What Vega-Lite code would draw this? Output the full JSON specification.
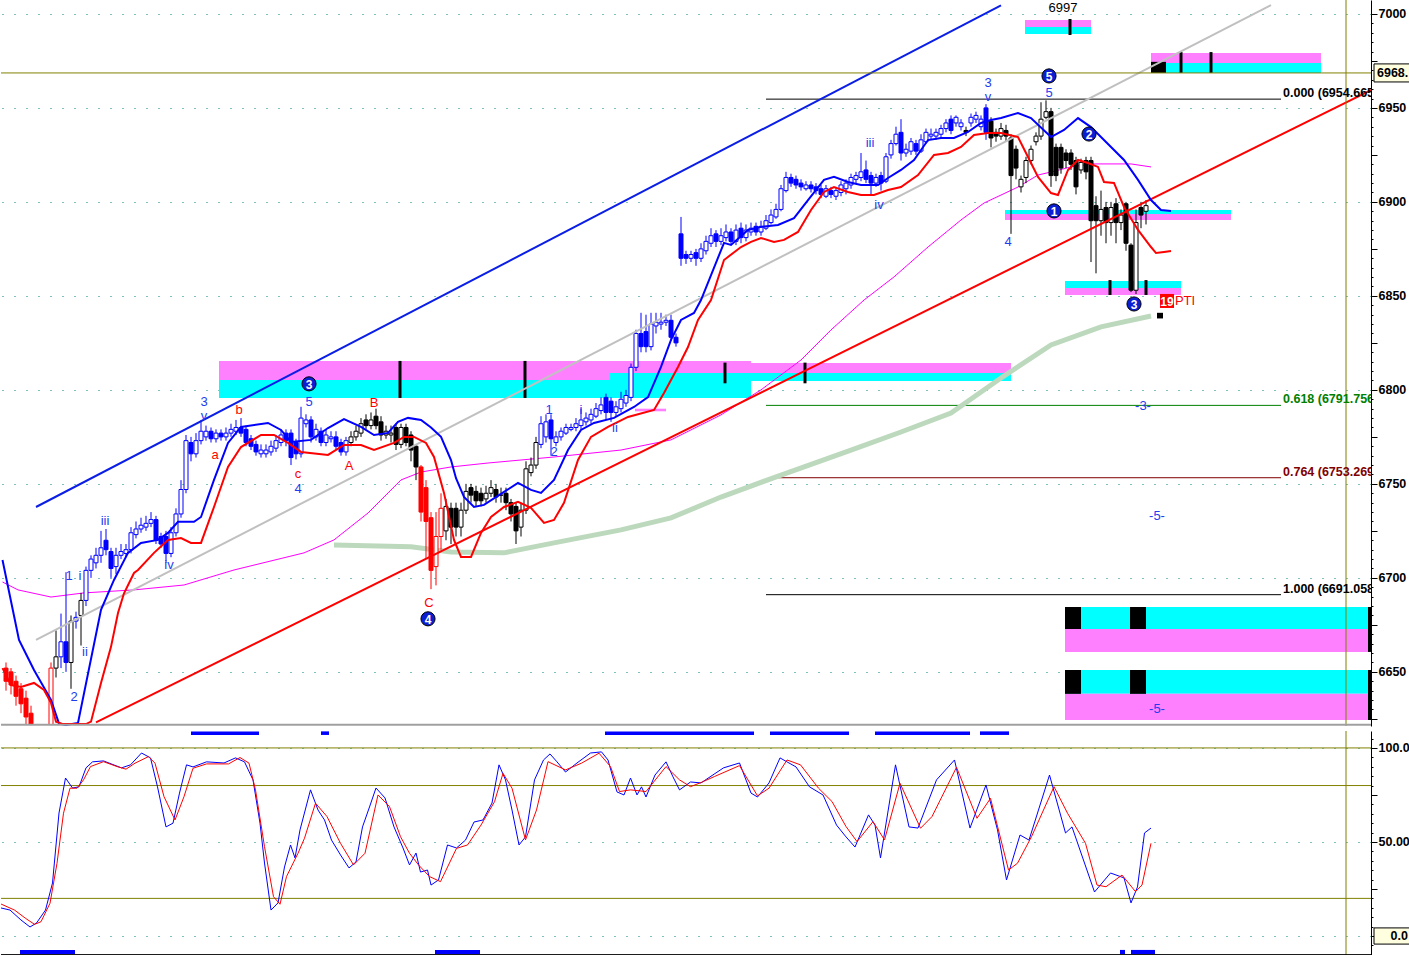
{
"$schema":"https://vega.github.io/schema/vega-lite/v6.json",
"padding":0,"spacing":5,"background":"white",
"config":{"view":{"stroke":null},"text":{"font":"Liberation Sans"},"scale":{"continuousPadding":0}},
"resolve":{"scale":{"x":"independent","y":"independent","color":"independent","fill":"independent","stroke":"independent"}},
"datasets":{
"candles":[
{"t":1,"o":6652,"h":6655,"l":6640,"c":6645,"k":"red"},{"t":2,"o":6650,"h":6652,"l":6638,"c":6643,"k":"red"},{"t":3,"o":6645,"h":6648,"l":6632,"c":6637,"k":"red"},{"t":4,"o":6641,"h":6644,"l":6628,"c":6633,"k":"red"},{"t":5,"o":6636,"h":6640,"l":6622,"c":6626,"k":"red"},{"t":6,"o":6628,"h":6632,"l":6622,"c":6622,"k":"red"},
{"t":10,"o":6622,"h":6655,"l":6622,"c":6652,"k":"red"},{"t":11,"o":6652,"h":6672,"l":6647,"c":6658,"k":"black"},{"t":12,"o":6658,"h":6681,"l":6652,"c":6666,"k":"blue"},{"t":13,"o":6666,"h":6703,"l":6650,"c":6655,"k":"blue"},{"t":14,"o":6655,"h":6680,"l":6641,"c":6677,"k":"black"},{"t":15,"o":6677,"h":6682,"l":6673,"c":6679,"k":"blue"},{"t":16,"o":6680,"h":6692,"l":6664,"c":6688,"k":"black"},{"t":17,"o":6688,"h":6706,"l":6685,"c":6704,"k":"blue"},{"t":18,"o":6704,"h":6712,"l":6700,"c":6710,"k":"blue"},{"t":19,"o":6708,"h":6716,"l":6705,"c":6712,"k":"blue"},
{"t":20,"o":6712,"h":6725,"l":6708,"c":6716,"k":"blue"},{"t":21,"o":6720,"h":6726,"l":6712,"c":6715,"k":"blue"},{"t":22,"o":6714,"h":6716,"l":6700,"c":6705,"k":"blue"},{"t":23,"o":6706,"h":6716,"l":6702,"c":6712,"k":"blue"},{"t":24,"o":6712,"h":6718,"l":6710,"c":6714,"k":"blue"},{"t":25,"o":6713,"h":6718,"l":6711,"c":6715,"k":"blue"},{"t":26,"o":6715,"h":6727,"l":6713,"c":6724,"k":"blue"},{"t":27,"o":6723,"h":6730,"l":6721,"c":6726,"k":"blue"},{"t":28,"o":6726,"h":6732,"l":6724,"c":6728,"k":"blue"},{"t":29,"o":6727,"h":6733,"l":6725,"c":6729,"k":"blue"},
{"t":30,"o":6729,"h":6735,"l":6727,"c":6731,"k":"blue"},{"t":31,"o":6731,"h":6733,"l":6718,"c":6720,"k":"blue"},{"t":32,"o":6722,"h":6724,"l":6716,"c":6718,"k":"blue"},{"t":33,"o":6722,"h":6725,"l":6708,"c":6713,"k":"blue"},{"t":34,"o":6713,"h":6727,"l":6711,"c":6724,"k":"blue"},{"t":35,"o":6724,"h":6737,"l":6722,"c":6734,"k":"blue"},{"t":36,"o":6734,"h":6752,"l":6732,"c":6747,"k":"blue"},{"t":37,"o":6747,"h":6776,"l":6745,"c":6773,"k":"blue"},{"t":38,"o":6772,"h":6775,"l":6762,"c":6766,"k":"blue"},{"t":39,"o":6766,"h":6777,"l":6764,"c":6773,"k":"blue"},
{"t":40,"o":6773,"h":6784,"l":6771,"c":6778,"k":"blue"},{"t":41,"o":6775,"h":6781,"l":6773,"c":6778,"k":"blue"},{"t":42,"o":6778,"h":6780,"l":6772,"c":6774,"k":"blue"},{"t":43,"o":6774,"h":6779,"l":6772,"c":6777,"k":"blue"},{"t":44,"o":6777,"h":6779,"l":6773,"c":6775,"k":"blue"},{"t":45,"o":6775,"h":6780,"l":6773,"c":6777,"k":"blue"},{"t":46,"o":6777,"h":6782,"l":6775,"c":6779,"k":"blue"},{"t":47,"o":6778,"h":6784,"l":6776,"c":6780,"k":"blue"},{"t":48,"o":6780,"h":6785,"l":6775,"c":6777,"k":"blue"},{"t":49,"o":6779,"h":6781,"l":6770,"c":6772,"k":"blue"},
{"t":50,"o":6774,"h":6776,"l":6768,"c":6770,"k":"blue"},{"t":51,"o":6771,"h":6773,"l":6765,"c":6767,"k":"blue"},{"t":52,"o":6766,"h":6771,"l":6764,"c":6768,"k":"blue"},{"t":53,"o":6766,"h":6771,"l":6764,"c":6768,"k":"blue"},{"t":54,"o":6767,"h":6773,"l":6765,"c":6770,"k":"blue"},{"t":55,"o":6769,"h":6776,"l":6767,"c":6773,"k":"blue"},{"t":56,"o":6772,"h":6779,"l":6770,"c":6776,"k":"blue"},{"t":57,"o":6777,"h":6779,"l":6770,"c":6773,"k":"blue"},{"t":58,"o":6777,"h":6779,"l":6760,"c":6764,"k":"blue"},{"t":59,"o":6772,"h":6774,"l":6763,"c":6766,"k":"blue"},
{"t":60,"o":6766,"h":6791,"l":6764,"c":6785,"k":"blue"},{"t":61,"o":6782,"h":6787,"l":6780,"c":6784,"k":"blue"},{"t":62,"o":6784,"h":6786,"l":6772,"c":6775,"k":"blue"},{"t":63,"o":6775,"h":6782,"l":6773,"c":6779,"k":"blue"},{"t":64,"o":6778,"h":6780,"l":6770,"c":6772,"k":"blue"},{"t":65,"o":6772,"h":6779,"l":6770,"c":6776,"k":"blue"},{"t":66,"o":6774,"h":6778,"l":6772,"c":6775,"k":"blue"},{"t":67,"o":6775,"h":6778,"l":6768,"c":6770,"k":"blue"},{"t":68,"o":6772,"h":6774,"l":6765,"c":6767,"k":"blue"},{"t":69,"o":6767,"h":6775,"l":6765,"c":6773,"k":"blue"},
{"t":70,"o":6772,"h":6778,"l":6770,"c":6775,"k":"black"},{"t":71,"o":6775,"h":6781,"l":6773,"c":6778,"k":"black"},{"t":72,"o":6777,"h":6785,"l":6775,"c":6782,"k":"black"},{"t":73,"o":6784,"h":6787,"l":6779,"c":6781,"k":"black"},{"t":74,"o":6781,"h":6788,"l":6779,"c":6784,"k":"black"},{"t":75,"o":6786,"h":6790,"l":6779,"c":6781,"k":"black"},{"t":76,"o":6783,"h":6786,"l":6773,"c":6776,"k":"black"},{"t":77,"o":6776,"h":6781,"l":6774,"c":6778,"k":"black"},{"t":78,"o":6776,"h":6781,"l":6772,"c":6777,"k":"black"},{"t":79,"o":6780,"h":6782,"l":6768,"c":6771,"k":"black"},
{"t":80,"o":6771,"h":6782,"l":6769,"c":6780,"k":"black"},{"t":81,"o":6780,"h":6782,"l":6770,"c":6772,"k":"black"},{"t":82,"o":6776,"h":6778,"l":6762,"c":6768,"k":"black"},{"t":83,"o":6770,"h":6771,"l":6752,"c":6759,"k":"black"},{"t":84,"o":6759,"h":6760,"l":6730,"c":6735,"k":"red"},{"t":85,"o":6748,"h":6752,"l":6710,"c":6730,"k":"red"},{"t":86,"o":6732,"h":6735,"l":6694,"c":6704,"k":"red"},{"t":87,"o":6706,"h":6735,"l":6696,"c":6722,"k":"red"},{"t":88,"o":6722,"h":6745,"l":6715,"c":6737,"k":"red"},{"t":89,"o":6725,"h":6742,"l":6720,"c":6738,"k":"black"},
{"t":90,"o":6737,"h":6740,"l":6718,"c":6727,"k":"black"},{"t":91,"o":6737,"h":6740,"l":6722,"c":6727,"k":"black"},{"t":92,"o":6727,"h":6740,"l":6722,"c":6736,"k":"black"},{"t":93,"o":6736,"h":6750,"l":6734,"c":6746,"k":"black"},{"t":94,"o":6748,"h":6750,"l":6740,"c":6744,"k":"black"},{"t":95,"o":6746,"h":6749,"l":6738,"c":6741,"k":"black"},{"t":96,"o":6745,"h":6748,"l":6738,"c":6741,"k":"black"},{"t":97,"o":6742,"h":6749,"l":6740,"c":6745,"k":"black"},{"t":98,"o":6745,"h":6752,"l":6743,"c":6748,"k":"black"},{"t":99,"o":6747,"h":6750,"l":6740,"c":6743,"k":"black"},
{"t":100,"o":6744,"h":6748,"l":6740,"c":6744,"k":"black"},{"t":101,"o":6745,"h":6748,"l":6736,"c":6740,"k":"black"},{"t":102,"o":6740,"h":6742,"l":6730,"c":6734,"k":"black"},{"t":103,"o":6738,"h":6740,"l":6718,"c":6725,"k":"black"},{"t":104,"o":6727,"h":6740,"l":6722,"c":6736,"k":"black"},{"t":105,"o":6736,"h":6762,"l":6734,"c":6758,"k":"black"},{"t":106,"o":6756,"h":6764,"l":6754,"c":6760,"k":"black"},{"t":107,"o":6760,"h":6775,"l":6758,"c":6772,"k":"black"},{"t":108,"o":6771,"h":6786,"l":6769,"c":6782,"k":"blue"},{"t":109,"o":6775,"h":6787,"l":6772,"c":6783,"k":"blue"},
{"t":110,"o":6784,"h":6787,"l":6765,"c":6774,"k":"blue"},{"t":111,"o":6772,"h":6778,"l":6770,"c":6775,"k":"blue"},{"t":112,"o":6775,"h":6780,"l":6773,"c":6778,"k":"blue"},{"t":113,"o":6777,"h":6782,"l":6776,"c":6780,"k":"blue"},{"t":114,"o":6779,"h":6782,"l":6778,"c":6780,"k":"blue"},{"t":115,"o":6780,"h":6785,"l":6778,"c":6782,"k":"blue"},{"t":116,"o":6781,"h":6790,"l":6779,"c":6784,"k":"blue"},{"t":117,"o":6783,"h":6788,"l":6781,"c":6785,"k":"blue"},{"t":118,"o":6784,"h":6790,"l":6782,"c":6787,"k":"blue"},{"t":119,"o":6786,"h":6793,"l":6785,"c":6790,"k":"blue"},
{"t":120,"o":6789,"h":6796,"l":6787,"c":6792,"k":"blue"},{"t":121,"o":6796,"h":6798,"l":6784,"c":6788,"k":"blue"},{"t":122,"o":6794,"h":6796,"l":6783,"c":6788,"k":"blue"},{"t":123,"o":6788,"h":6794,"l":6786,"c":6791,"k":"blue"},{"t":124,"o":6790,"h":6799,"l":6788,"c":6795,"k":"blue"},{"t":125,"o":6793,"h":6800,"l":6791,"c":6797,"k":"blue"},{"t":126,"o":6796,"h":6814,"l":6794,"c":6812,"k":"blue"},{"t":127,"o":6812,"h":6832,"l":6810,"c":6830,"k":"blue"},{"t":128,"o":6830,"h":6841,"l":6820,"c":6823,"k":"blue"},{"t":129,"o":6831,"h":6840,"l":6820,"c":6823,"k":"blue"},
{"t":130,"o":6823,"h":6841,"l":6821,"c":6835,"k":"blue"},{"t":131,"o":6834,"h":6841,"l":6830,"c":6836,"k":"blue"},{"t":132,"o":6835,"h":6841,"l":6832,"c":6836,"k":"blue"},{"t":133,"o":6836,"h":6840,"l":6834,"c":6837,"k":"blue"},{"t":134,"o":6837,"h":6840,"l":6826,"c":6828,"k":"blue"},{"t":135,"o":6828,"h":6830,"l":6823,"c":6825,"k":"blue"},{"t":136,"o":6883,"h":6892,"l":6866,"c":6870,"k":"blue"},{"t":137,"o":6872,"h":6874,"l":6867,"c":6870,"k":"blue"},{"t":138,"o":6870,"h":6874,"l":6868,"c":6872,"k":"blue"},{"t":139,"o":6873,"h":6875,"l":6866,"c":6870,"k":"blue"},
{"t":140,"o":6870,"h":6878,"l":6868,"c":6875,"k":"blue"},{"t":141,"o":6874,"h":6882,"l":6872,"c":6879,"k":"blue"},{"t":142,"o":6878,"h":6886,"l":6876,"c":6882,"k":"blue"},{"t":143,"o":6883,"h":6885,"l":6876,"c":6879,"k":"blue"},{"t":144,"o":6879,"h":6886,"l":6877,"c":6882,"k":"blue"},{"t":145,"o":6881,"h":6888,"l":6879,"c":6884,"k":"blue"},{"t":146,"o":6884,"h":6886,"l":6877,"c":6879,"k":"blue"},{"t":147,"o":6879,"h":6888,"l":6877,"c":6885,"k":"blue"},{"t":148,"o":6886,"h":6889,"l":6878,"c":6881,"k":"blue"},{"t":149,"o":6881,"h":6888,"l":6879,"c":6885,"k":"blue"},
{"t":150,"o":6884,"h":6889,"l":6882,"c":6886,"k":"blue"},{"t":151,"o":6887,"h":6889,"l":6882,"c":6884,"k":"blue"},{"t":152,"o":6884,"h":6890,"l":6882,"c":6887,"k":"blue"},{"t":153,"o":6886,"h":6893,"l":6885,"c":6890,"k":"blue"},{"t":154,"o":6889,"h":6896,"l":6888,"c":6893,"k":"blue"},{"t":155,"o":6892,"h":6899,"l":6891,"c":6896,"k":"blue"},{"t":156,"o":6896,"h":6909,"l":6895,"c":6907,"k":"blue"},{"t":157,"o":6906,"h":6916,"l":6905,"c":6913,"k":"blue"},{"t":158,"o":6913,"h":6915,"l":6908,"c":6910,"k":"blue"},{"t":159,"o":6912,"h":6914,"l":6907,"c":6909,"k":"blue"},
{"t":160,"o":6910,"h":6912,"l":6906,"c":6908,"k":"blue"},{"t":161,"o":6907,"h":6911,"l":6906,"c":6909,"k":"blue"},{"t":162,"o":6909,"h":6911,"l":6905,"c":6907,"k":"blue"},{"t":163,"o":6908,"h":6910,"l":6904,"c":6906,"k":"blue"},{"t":164,"o":6907,"h":6909,"l":6902,"c":6904,"k":"blue"},{"t":165,"o":6903,"h":6909,"l":6902,"c":6907,"k":"blue"},{"t":166,"o":6906,"h":6908,"l":6902,"c":6904,"k":"blue"},{"t":167,"o":6903,"h":6908,"l":6901,"c":6906,"k":"blue"},{"t":168,"o":6905,"h":6911,"l":6903,"c":6909,"k":"blue"},{"t":169,"o":6907,"h":6912,"l":6904,"c":6910,"k":"blue"},
{"t":170,"o":6909,"h":6915,"l":6907,"c":6913,"k":"blue"},{"t":171,"o":6912,"h":6916,"l":6910,"c":6914,"k":"blue"},{"t":172,"o":6913,"h":6926,"l":6911,"c":6916,"k":"blue"},{"t":173,"o":6917,"h":6922,"l":6910,"c":6912,"k":"blue"},{"t":174,"o":6914,"h":6916,"l":6904,"c":6910,"k":"blue"},{"t":175,"o":6910,"h":6915,"l":6908,"c":6913,"k":"blue"},{"t":176,"o":6914,"h":6916,"l":6906,"c":6910,"k":"blue"},{"t":177,"o":6911,"h":6926,"l":6910,"c":6924,"k":"blue"},{"t":178,"o":6925,"h":6933,"l":6923,"c":6931,"k":"blue"},{"t":179,"o":6931,"h":6940,"l":6930,"c":6936,"k":"blue"},
{"t":180,"o":6937,"h":6944,"l":6922,"c":6926,"k":"blue"},{"t":181,"o":6926,"h":6931,"l":6924,"c":6928,"k":"blue"},{"t":182,"o":6927,"h":6934,"l":6925,"c":6932,"k":"blue"},{"t":183,"o":6931,"h":6933,"l":6925,"c":6927,"k":"blue"},{"t":184,"o":6927,"h":6936,"l":6926,"c":6933,"k":"blue"},{"t":185,"o":6932,"h":6939,"l":6931,"c":6937,"k":"blue"},{"t":186,"o":6935,"h":6939,"l":6933,"c":6936,"k":"blue"},{"t":187,"o":6935,"h":6939,"l":6933,"c":6937,"k":"blue"},{"t":188,"o":6936,"h":6941,"l":6934,"c":6939,"k":"blue"},{"t":189,"o":6939,"h":6944,"l":6937,"c":6942,"k":"blue"},
{"t":190,"o":6944,"h":6946,"l":6936,"c":6938,"k":"blue"},{"t":191,"o":6942,"h":6946,"l":6940,"c":6945,"k":"blue"},{"t":192,"o":6940,"h":6944,"l":6938,"c":6942,"k":"blue"},{"t":193,"o":6938,"h":6940,"l":6935,"c":6937,"k":"black"},{"t":194,"o":6942,"h":6947,"l":6940,"c":6945,"k":"blue"},{"t":195,"o":6944,"h":6948,"l":6942,"c":6946,"k":"blue"},{"t":196,"o":6940,"h":6946,"l":6938,"c":6944,"k":"blue"},{"t":197,"o":6950,"h":6952,"l":6933,"c":6937,"k":"blue"},{"t":198,"o":6943,"h":6945,"l":6929,"c":6934,"k":"black"},{"t":199,"o":6937,"h":6939,"l":6932,"c":6935,"k":"black"},
{"t":200,"o":6935,"h":6942,"l":6933,"c":6939,"k":"black"},{"t":201,"o":6938,"h":6941,"l":6932,"c":6935,"k":"black"},{"t":202,"o":6934,"h":6936,"l":6883,"c":6914,"k":"black"},{"t":203,"o":6928,"h":6930,"l":6912,"c":6918,"k":"black"},{"t":204,"o":6908,"h":6914,"l":6905,"c":6912,"k":"black"},{"t":205,"o":6913,"h":6924,"l":6910,"c":6922,"k":"black"},{"t":206,"o":6922,"h":6930,"l":6920,"c":6928,"k":"black"},{"t":207,"o":6932,"h":6937,"l":6930,"c":6935,"k":"black"},{"t":208,"o":6935,"h":6953,"l":6933,"c":6944,"k":"black"},{"t":209,"o":6945,"h":6954,"l":6944,"c":6948,"k":"black"},
{"t":210,"o":6948,"h":6950,"l":6908,"c":6914,"k":"black"},{"t":211,"o":6929,"h":6931,"l":6911,"c":6914,"k":"black"},{"t":212,"o":6929,"h":6931,"l":6915,"c":6918,"k":"black"},{"t":213,"o":6926,"h":6928,"l":6918,"c":6922,"k":"black"},{"t":214,"o":6926,"h":6928,"l":6917,"c":6920,"k":"black"},{"t":215,"o":6922,"h":6924,"l":6904,"c":6908,"k":"black"},{"t":216,"o":6917,"h":6923,"l":6915,"c":6921,"k":"black"},{"t":217,"o":6922,"h":6924,"l":6912,"c":6916,"k":"black"},{"t":218,"o":6922,"h":6924,"l":6868,"c":6890,"k":"black"},{"t":219,"o":6898,"h":6903,"l":6862,"c":6890,"k":"black"},
{"t":220,"o":6890,"h":6906,"l":6882,"c":6896,"k":"black"},{"t":221,"o":6897,"h":6900,"l":6878,"c":6889,"k":"black"},{"t":222,"o":6889,"h":6900,"l":6882,"c":6897,"k":"black"},{"t":223,"o":6899,"h":6902,"l":6878,"c":6889,"k":"black"},{"t":224,"o":6889,"h":6896,"l":6885,"c":6893,"k":"black"},{"t":225,"o":6899,"h":6900,"l":6874,"c":6878,"k":"black"},{"t":226,"o":6877,"h":6878,"l":6852,"c":6853,"k":"black"},{"t":227,"o":6853,"h":6896,"l":6851,"c":6889,"k":"black"},{"t":228,"o":6897,"h":6900,"l":6886,"c":6893,"k":"black"},{"t":229,"o":6895,"h":6901,"l":6888,"c":6898,"k":"black"}
],
"ind":[
{"s":"up","t":0.3,"p":6709.5},{"s":"up","t":3.6,"p":6667.0},{"s":"up","t":6.6,"p":6651.0},{"s":"up","t":10,"p":6635.1},{"s":"up","t":11.6,"p":6622.5},{"s":"up","t":13,"p":6621.8},{"s":"up","t":15.4,"p":6622.8},{"s":"up","t":20,"p":6683.0},{"s":"up","t":22.6,"p":6698.9},{"s":"up","t":25.4,"p":6713.3},{"s":"up","t":28,"p":6718.6},{"s":"up","t":31.4,"p":6720.2},{"s":"up","t":33.4,"p":6723.9},{"s":"up","t":35.4,"p":6729.8},{"s":"up","t":38.6,"p":6729.8},{"s":"up","t":40,"p":6732.4},{"s":"up","t":42.6,"p":6752.1},{"s":"up","t":45.4,"p":6771.8},{"s":"up","t":48,"p":6780.3},{"s":"up","t":53.4,"p":6782.4},{"s":"up","t":56,"p":6778.7},{"s":"up","t":58,"p":6772.3},{"s":"up","t":62,"p":6773.4},{"s":"up","t":65.4,"p":6779.7},{"s":"up","t":68.6,"p":6784.5},{"s":"up","t":72,"p":6780.3},{"s":"up","t":74.6,"p":6776.0},{"s":"up","t":77.4,"p":6777.1},{"s":"up","t":79.4,"p":6783.0},{"s":"up","t":81.4,"p":6785.1},{"s":"up","t":84,"p":6784},{"s":"up","t":86,"p":6780},{"s":"up","t":88,"p":6775.0},{"s":"up","t":90,"p":6762.7},{"s":"up","t":91,"p":6753},{"s":"up","t":92.6,"p":6743.0},{"s":"up","t":94.6,"p":6737.7},{"s":"up","t":96.6,"p":6738.8},{"s":"up","t":100.6,"p":6745.7},{"s":"up","t":103.4,"p":6750.5},{"s":"up","t":106,"p":6746.8},{"s":"up","t":108,"p":6745.2},{"s":"up","t":110.6,"p":6752.1},{"s":"up","t":113.4,"p":6768.0},{"s":"up","t":116,"p":6778.7},{"s":"up","t":118.6,"p":6782.4},{"s":"up","t":122.6,"p":6785.1},{"s":"up","t":126.6,"p":6790.9},{"s":"up","t":129.4,"p":6796.2},{"s":"up","t":132,"p":6812.2},{"s":"up","t":134,"p":6826.6},{"s":"up","t":136,"p":6837.2},{"s":"up","t":138.6,"p":6840.9},{"s":"up","t":140,"p":6847.8},{"s":"up","t":144.6,"p":6878.2},{"s":"up","t":146,"p":6877.1},{"s":"up","t":149.4,"p":6885.1},{"s":"up","t":152,"p":6886.7},{"s":"up","t":155.4,"p":6887.7},{"s":"up","t":158.6,"p":6891.4},{"s":"up","t":161.4,"p":6901.0},{"s":"up","t":164.6,"p":6911.7},{"s":"up","t":166.6,"p":6913.3},{"s":"up","t":169.4,"p":6910.6},{"s":"up","t":172,"p":6909.0},{"s":"up","t":175.4,"p":6909.0},{"s":"up","t":177.4,"p":6912.7},{"s":"up","t":180,"p":6917.0},{"s":"up","t":182.6,"p":6922.3},{"s":"up","t":185.4,"p":6932.9},{"s":"up","t":188,"p":6934.0},{"s":"up","t":190.6,"p":6934.0},{"s":"up","t":193.4,"p":6937.2},{"s":"up","t":196,"p":6942.0},{"s":"up","t":198,"p":6943.6},{"s":"up","t":200,"p":6944.6},{"s":"up","t":203.4,"p":6947.3},{"s":"up","t":206,"p":6944.6},{"s":"up","t":210,"p":6934.5},{"s":"up","t":212.6,"p":6938.3},{"s":"up","t":215.4,"p":6944.6},{"s":"up","t":218,"p":6939.8},{"s":"up","t":222,"p":6929.2},{"s":"up","t":224.6,"p":6922.3},{"s":"up","t":227.4,"p":6911.7},{"s":"up","t":230,"p":6901.0},{"s":"up","t":232,"p":6895.7},{"s":"up","t":234,"p":6895.2},
{"s":"lo","t":0.3,"p":6652},{"s":"lo","t":2,"p":6643.0},{"s":"lo","t":4,"p":6642.0},{"s":"lo","t":6.6,"p":6644.1},{"s":"lo","t":8.6,"p":6640.4},{"s":"lo","t":10,"p":6633.5},{"s":"lo","t":11,"p":6623.5},{"s":"lo","t":12.4,"p":6622.2},{"s":"lo","t":17,"p":6622.2},{"s":"lo","t":18,"p":6623.5},{"s":"lo","t":20,"p":6644.1},{"s":"lo","t":22,"p":6663.3},{"s":"lo","t":23.4,"p":6681.3},{"s":"lo","t":24.6,"p":6691.8},{"s":"lo","t":26.6,"p":6702.6},{"s":"lo","t":27.4,"p":6704.2},{"s":"lo","t":30.6,"p":6713.3},{"s":"lo","t":33.4,"p":6720.2},{"s":"lo","t":36,"p":6721.2},{"s":"lo","t":38,"p":6718.6},{"s":"lo","t":40,"p":6718.6},{"s":"lo","t":42.6,"p":6737.7},{"s":"lo","t":45.4,"p":6759.0},{"s":"lo","t":48,"p":6769.6},{"s":"lo","t":52,"p":6776.0},{"s":"lo","t":54.6,"p":6776.0},{"s":"lo","t":57.4,"p":6771.8},{"s":"lo","t":60,"p":6767.0},{"s":"lo","t":65.4,"p":6765.4},{"s":"lo","t":68.6,"p":6770.7},{"s":"lo","t":72,"p":6770.7},{"s":"lo","t":74.6,"p":6768.0},{"s":"lo","t":78.6,"p":6771.8},{"s":"lo","t":80.6,"p":6775.0},{"s":"lo","t":82.6,"p":6775.0},{"s":"lo","t":85,"p":6771.8},{"s":"lo","t":86.6,"p":6764.3},{"s":"lo","t":88.6,"p":6745.2},{"s":"lo","t":90.6,"p":6720.2},{"s":"lo","t":92,"p":6711.1},{"s":"lo","t":94,"p":6711.1},{"s":"lo","t":96,"p":6723.9},{"s":"lo","t":98,"p":6732.4},{"s":"lo","t":100.6,"p":6737.7},{"s":"lo","t":103.4,"p":6740.4},{"s":"lo","t":106,"p":6737.2},{"s":"lo","t":108.6,"p":6729.2},{"s":"lo","t":110.6,"p":6730.8},{"s":"lo","t":112.6,"p":6739.9},{"s":"lo","t":115.4,"p":6762.7},{"s":"lo","t":118,"p":6775.0},{"s":"lo","t":121.4,"p":6780.3},{"s":"lo","t":125.4,"p":6785.6},{"s":"lo","t":130.6,"p":6789.3},{"s":"lo","t":132.6,"p":6798.4},{"s":"lo","t":135.4,"p":6812.2},{"s":"lo","t":137.4,"p":6822.8},{"s":"lo","t":139.4,"p":6837.2},{"s":"lo","t":142,"p":6847.8},{"s":"lo","t":144.6,"p":6869.1},{"s":"lo","t":148,"p":6876.0},{"s":"lo","t":150,"p":6878.7},{"s":"lo","t":152,"p":6880.8},{"s":"lo","t":154.6,"p":6878.7},{"s":"lo","t":156.6,"p":6879.8},{"s":"lo","t":159.4,"p":6884.0},{"s":"lo","t":162,"p":6895.7},{"s":"lo","t":164.6,"p":6905.3},{"s":"lo","t":166.6,"p":6907.9},{"s":"lo","t":169.4,"p":6905.3},{"s":"lo","t":172,"p":6903.7},{"s":"lo","t":174.6,"p":6903.7},{"s":"lo","t":177.4,"p":6906.3},{"s":"lo","t":180,"p":6907.9},{"s":"lo","t":183.4,"p":6914.3},{"s":"lo","t":186.6,"p":6925.0},{"s":"lo","t":189.4,"p":6926.0},{"s":"lo","t":192,"p":6929.2},{"s":"lo","t":194.6,"p":6935.6},{"s":"lo","t":197.4,"p":6936.7},{"s":"lo","t":200,"p":6936.7},{"s":"lo","t":203.4,"p":6934.5},{"s":"lo","t":205.4,"p":6923.9},{"s":"lo","t":207.4,"p":6913.3},{"s":"lo","t":210,"p":6904.7},{"s":"lo","t":211.4,"p":6903.7},{"s":"lo","t":213.4,"p":6917.0},{"s":"lo","t":215.4,"p":6922.3},{"s":"lo","t":217.4,"p":6920.7},{"s":"lo","t":219.4,"p":6918.6},{"s":"lo","t":220.6,"p":6910.6},{"s":"lo","t":222.6,"p":6910.1},{"s":"lo","t":224.6,"p":6897.3},{"s":"lo","t":227.4,"p":6885.1},{"s":"lo","t":230,"p":6876.0},{"s":"lo","t":231,"p":6872.8},{"s":"lo","t":232.6,"p":6873.4},{"s":"lo","t":234,"p":6873.9},
{"s":"ma","t":0.3,"p":6697.8},{"s":"ma","t":3.4,"p":6693.6},{"s":"ma","t":10,"p":6689.8},{"s":"ma","t":16.6,"p":6692.0},{"s":"ma","t":26.6,"p":6693.6},{"s":"ma","t":36.6,"p":6696.2},{"s":"ma","t":46.6,"p":6704.2},{"s":"ma","t":60.6,"p":6713.3},{"s":"ma","t":66.6,"p":6720.2},{"s":"ma","t":73.4,"p":6734.5},{"s":"ma","t":80,"p":6752.1},{"s":"ma","t":84,"p":6756.3},{"s":"ma","t":90,"p":6759.0},{"s":"ma","t":97.4,"p":6761.1},{"s":"ma","t":110.6,"p":6764.3},{"s":"ma","t":124,"p":6768.0},{"s":"ma","t":134,"p":6773.4},{"s":"ma","t":144,"p":6786.7},{"s":"ma","t":152,"p":6800.0},{"s":"ma","t":160,"p":6815.9},{"s":"ma","t":166,"p":6831.9},{"s":"ma","t":172.6,"p":6847.8},{"s":"ma","t":178.6,"p":6860.1},{"s":"ma","t":185.4,"p":6876.0},{"s":"ma","t":192,"p":6890.4},{"s":"ma","t":196.6,"p":6899.4},{"s":"ma","t":203.4,"p":6907.9},{"s":"ma","t":207.4,"p":6914.3},{"s":"ma","t":210,"p":6915.9},{"s":"ma","t":214,"p":6918.6},{"s":"ma","t":218,"p":6920.2},{"s":"ma","t":226,"p":6920.2},{"s":"ma","t":230,"p":6918.6},
{"s":"ma2","t":66.6,"p":6717.5},{"s":"ma2","t":82,"p":6716.5},{"s":"ma2","t":90,"p":6713.8},{"s":"ma2","t":100.6,"p":6713.3},{"s":"ma2","t":110.6,"p":6718.6},{"s":"ma2","t":124,"p":6725.5},{"s":"ma2","t":134,"p":6731.9},{"s":"ma2","t":144,"p":6743.0},{"s":"ma2","t":156,"p":6754.7},{"s":"ma2","t":170,"p":6768.0},{"s":"ma2","t":180,"p":6777.6},{"s":"ma2","t":190,"p":6787.7},{"s":"ma2","t":200,"p":6806.3},{"s":"ma2","t":210,"p":6823.9},{"s":"ma2","t":220,"p":6833.5},{"s":"ma2","t":230,"p":6839.3}
],
"trend":[
{"s":"blue","t":7,"p":6737.7},{"s":"blue","t":200,"p":7004.6},
{"s":"gray","t":7,"p":6667.0},{"s":"gray","t":254,"p":7004.7},
{"s":"red","t":19,"p":6623.1},{"s":"red","t":274,"p":6959.5}
],
"zones":[
{"t1":43.6,"t2":150,"p1":6805.3,"p2":6815.4,"kind":"pink"},{"t1":43.6,"t2":150,"p1":6795.7,"p2":6805.3,"kind":"cyan"},
{"t1":121.8,"t2":202,"p1":6809.0,"p2":6814.3,"kind":"pink"},{"t1":121.8,"t2":202,"p1":6804.7,"p2":6809.0,"kind":"cyan"},
{"t1":204.8,"t2":218,"p1":6993.0,"p2":6996.8,"kind":"pink"},{"t1":204.8,"t2":218,"p1":6989.3,"p2":6993.0,"kind":"cyan"},
{"t1":230,"t2":264,"p1":6973.9,"p2":6979.2,"kind":"pink"},{"t1":230,"t2":264,"p1":6968.6,"p2":6973.9,"kind":"cyan"},{"t1":230,"t2":233,"p1":6968.6,"p2":6974.5,"kind":"black"},
{"t1":200.8,"t2":246,"p1":6893.6,"p2":6895.7,"kind":"cyan"},{"t1":200.8,"t2":246,"p1":6890.4,"p2":6893.6,"kind":"pink"},
{"t1":212.8,"t2":236,"p1":6854.2,"p2":6857.9,"kind":"cyan"},{"t1":212.8,"t2":236,"p1":6850.5,"p2":6854.2,"kind":"pink"},
{"t1":212.8,"t2":274,"p1":6672.8,"p2":6684.5,"kind":"cyan"},{"t1":212.8,"t2":274,"p1":6660.6,"p2":6672.8,"kind":"pink"},{"t1":212.8,"t2":216,"p1":6672.8,"p2":6684.5,"kind":"black"},{"t1":225.8,"t2":229,"p1":6672.8,"p2":6684.5,"kind":"black"},{"t1":273.4,"t2":274,"p1":6660.6,"p2":6684.5,"kind":"black"},
{"t1":212.8,"t2":274,"p1":6638.3,"p2":6651.0,"kind":"cyan"},{"t1":212.8,"t2":274,"p1":6624.4,"p2":6638.3,"kind":"pink"},{"t1":212.8,"t2":216,"p1":6638.3,"p2":6651.0,"kind":"black"},{"t1":225.8,"t2":229,"p1":6638.3,"p2":6651.0,"kind":"black"},{"t1":273.4,"t2":274,"p1":6624.4,"p2":6651.0,"kind":"black"},
{"t1":126.8,"t2":133,"p1":6788.6,"p2":6790.0,"kind":"pink"},{"t1":231.2,"t2":232.4,"p1":6838,"p2":6841,"kind":"black"}
],
"ticks":[
{"t":79.8,"p1":6795.7,"p2":6815.4},{"t":104.8,"p1":6795.7,"p2":6815.4},{"t":144.8,"p1":6803.5,"p2":6814.5},{"t":160.8,"p1":6803.5,"p2":6814.5},{"t":213.8,"p1":6988.8,"p2":6997.3},{"t":236,"p1":6968.6,"p2":6979.7},{"t":242,"p1":6968.6,"p2":6979.7},{"t":221.8,"p1":6850.5,"p2":6858.4},{"t":229,"p1":6850.5,"p2":6858.4}
],
"fibs":[
{"t1":153,"t2":256,"p":6954.665,"lvl":"0.000","label":"0.000 (6954.665)"},
{"t1":153,"t2":256,"p":6791.756,"lvl":"0.618","label":"0.618 (6791.756)"},
{"t1":155,"t2":256,"p":6753.269,"lvl":"0.764","label":"0.764 (6753.269)"},
{"t1":153,"t2":256,"p":6691.058,"lvl":"1.000","label":"1.000 (6691.058)"}
],
"labels":[
{"t":40.6,"p":6793.6,"text":"3","col":"blue"},{"t":40.6,"p":6786.1,"text":"v","col":"blue"},{"t":42.8,"p":6765.4,"text":"a","col":"red"},{"t":47.6,"p":6789.3,"text":"b","col":"red"},{"t":61.6,"p":6793.6,"text":"5","col":"blue"},{"t":59.4,"p":6755.3,"text":"c","col":"red"},{"t":59.4,"p":6747.3,"text":"4","col":"blue"},{"t":69.6,"p":6759.5,"text":"A","col":"red"},{"t":74.6,"p":6793.0,"text":"B","col":"red"},{"t":85.6,"p":6686.7,"text":"C","col":"red"},
{"t":20.8,"p":6730.3,"text":"iii","col":"blue"},{"t":33.6,"p":6706.9,"text":"iv","col":"blue"},{"t":13.6,"p":6701.0,"text":"1","col":"blue"},{"t":15.8,"p":6701.0,"text":"i","col":"blue"},{"t":16.8,"p":6660.6,"text":"ii","col":"blue"},{"t":14.6,"p":6636.7,"text":"2","col":"blue"},
{"t":109.6,"p":6789.3,"text":"1","col":"blue"},{"t":110.6,"p":6767.0,"text":"2","col":"blue"},{"t":116,"p":6789.3,"text":"i","col":"blue"},{"t":122.8,"p":6779.7,"text":"ii","col":"blue"},{"t":173.8,"p":6931.3,"text":"iii","col":"blue"},{"t":175.6,"p":6898.4,"text":"iv","col":"blue"},
{"t":197.4,"p":6963.3,"text":"3","col":"blue"},{"t":197.4,"p":6955.8,"text":"v","col":"blue"},{"t":209.6,"p":6957.9,"text":"5","col":"blue"},{"t":201.4,"p":6878.7,"text":"4","col":"blue"},
{"t":228.4,"p":6791.4,"text":"-3-","col":"blue"},{"t":231.2,"p":6732.9,"text":"-5-","col":"blue"},{"t":231.2,"p":6630.3,"text":"-5-","col":"blue"},{"t":212.4,"p":7003.4,"text":"6997","col":"black"},{"t":236.8,"p":6847.3,"text":"PTI","col":"red"}
],
"circles":[
{"t":61.6,"p":6803.2,"n":"3"},{"t":85.4,"p":6678.2,"n":"4"},{"t":209.6,"p":6967.0,"n":"5"},{"t":210.6,"p":6895.2,"n":"1"},{"t":217.6,"p":6936.1,"n":"2"},{"t":226.6,"p":6845.7,"n":"3"}
],
"stoch":[
{"s":"K","t":0,"v":14.9},{"s":"K","t":1.8,"v":13.8},{"s":"K","t":4,"v":8.5},{"s":"K","t":5.8,"v":4.8},{"s":"K","t":7.1,"v":6.9},{"s":"K","t":8.9,"v":13.8},{"s":"K","t":10.3,"v":28.2},{"s":"K","t":11.6,"v":65.4},{"s":"K","t":12.9,"v":84},{"s":"K","t":14.3,"v":78.7},{"s":"K","t":15.6,"v":79.3},{"s":"K","t":17,"v":89.4},{"s":"K","t":18.3,"v":92.6},{"s":"K","t":20.5,"v":93.1},{"s":"K","t":24.1,"v":89.4},{"s":"K","t":25.9,"v":91},{"s":"K","t":28.1,"v":97.3},{"s":"K","t":29.9,"v":94.7},{"s":"K","t":31.3,"v":79.3},{"s":"K","t":33,"v":58},{"s":"K","t":34.4,"v":60},{"s":"K","t":35.7,"v":76},{"s":"K","t":37.1,"v":91},{"s":"K","t":38.4,"v":89.9},{"s":"K","t":41.1,"v":92.6},{"s":"K","t":44.6,"v":92},{"s":"K","t":46.9,"v":94.7},{"s":"K","t":48.7,"v":92.6},{"s":"K","t":50.4,"v":83},{"s":"K","t":51.8,"v":60},{"s":"K","t":52.7,"v":38.8},{"s":"K","t":54,"v":13.8},{"s":"K","t":55.4,"v":17.6},{"s":"K","t":56.7,"v":36.7},{"s":"K","t":57.9,"v":48.4},{"s":"K","t":58.8,"v":41.5},{"s":"K","t":59.8,"v":56.4},{"s":"K","t":61.9,"v":77.7},{"s":"K","t":63.4,"v":67},{"s":"K","t":64.7,"v":61.7},{"s":"K","t":66.1,"v":51},{"s":"K","t":67.9,"v":43.1},{"s":"K","t":69.6,"v":36.2},{"s":"K","t":71,"v":39.4},{"s":"K","t":72.3,"v":58},{"s":"K","t":73.7,"v":68.6},{"s":"K","t":75,"v":78.7},{"s":"K","t":76.8,"v":73.4},{"s":"K","t":78.6,"v":58},{"s":"K","t":80.4,"v":46.8},{"s":"K","t":81.7,"v":37.8},{"s":"K","t":83,"v":44.1},{"s":"K","t":83.9,"v":34},{"s":"K","t":85.3,"v":35.1},{"s":"K","t":86,"v":27.1},{"s":"K","t":87.5,"v":29.8},{"s":"K","t":89.3,"v":48.4},{"s":"K","t":91.1,"v":46.8},{"s":"K","t":92.9,"v":51},{"s":"K","t":94.6,"v":60.6},{"s":"K","t":96.4,"v":61.7},{"s":"K","t":98.2,"v":70.7},{"s":"K","t":99.6,"v":91},{"s":"K","t":100.9,"v":83},{"s":"K","t":102.2,"v":67},{"s":"K","t":103.6,"v":48.4},{"s":"K","t":104.9,"v":52.7},{"s":"K","t":106.7,"v":83},{"s":"K","t":108.5,"v":93.6},{"s":"K","t":109.8,"v":96.8},{"s":"K","t":111.2,"v":92.6},{"s":"K","t":112.9,"v":87.2},{"s":"K","t":115.2,"v":92},{"s":"K","t":117.9,"v":97.3},{"s":"K","t":120.1,"v":97.9},{"s":"K","t":121.4,"v":93.6},{"s":"K","t":123.2,"v":76.6},{"s":"K","t":124.6,"v":75},{"s":"K","t":125.9,"v":84},{"s":"K","t":127.2,"v":75},{"s":"K","t":128.1,"v":79.3},{"s":"K","t":129,"v":73.9},{"s":"K","t":130.8,"v":85.6},{"s":"K","t":133,"v":92.6},{"s":"K","t":134.4,"v":84.6},{"s":"K","t":135.7,"v":77.7},{"s":"K","t":137.9,"v":81.9},{"s":"K","t":140,"v":81.4},{"s":"K","t":144.5,"v":89.4},{"s":"K","t":147.7,"v":92},{"s":"K","t":150,"v":76},{"s":"K","t":151.3,"v":73.9},{"s":"K","t":153.6,"v":81.4},{"s":"K","t":155.8,"v":94.7},{"s":"K","t":159,"v":89.9},{"s":"K","t":161.7,"v":79.3},{"s":"K","t":164.4,"v":75},{"s":"K","t":167.1,"v":59},{"s":"K","t":169,"v":52.7},{"s":"K","t":170.8,"v":47.3},{"s":"K","t":173.5,"v":64.4},{"s":"K","t":174.8,"v":59},{"s":"K","t":175.9,"v":41.5},{"s":"K","t":178.9,"v":91},{"s":"K","t":181.6,"v":58},{"s":"K","t":183.4,"v":57.4},{"s":"K","t":187.1,"v":83},{"s":"K","t":190.7,"v":93.6},{"s":"K","t":193.8,"v":57.4},{"s":"K","t":197,"v":80.3},{"s":"K","t":199.3,"v":56.4},{"s":"K","t":201.1,"v":29.8},{"s":"K","t":203.8,"v":53.7},{"s":"K","t":205.6,"v":51},{"s":"K","t":209.7,"v":85.6},{"s":"K","t":212.9,"v":54.8},{"s":"K","t":214.2,"v":58},{"s":"K","t":218.7,"v":23.4},{"s":"K","t":221.9,"v":33.5},{"s":"K","t":224.6,"v":30.9},{"s":"K","t":226,"v":17.6},{"s":"K","t":227.3,"v":26.1},{"s":"K","t":228.7,"v":54.8},{"s":"K","t":230,"v":57.4},
{"s":"D","t":0,"v":17.0},{"s":"D","t":2.7,"v":13.8},{"s":"D","t":4.9,"v":9.4},{"s":"D","t":6.7,"v":6.2},{"s":"D","t":8,"v":7.6},{"s":"D","t":9.8,"v":17.4},{"s":"D","t":11.2,"v":38.7},{"s":"D","t":12.5,"v":65.3},{"s":"D","t":13.8,"v":78.6},{"s":"D","t":15.2,"v":78.6},{"s":"D","t":16.5,"v":83},{"s":"D","t":17.9,"v":90.1},{"s":"D","t":20.5,"v":92.7},{"s":"D","t":23.2,"v":90.1},{"s":"D","t":25,"v":88.7},{"s":"D","t":26.8,"v":91.9},{"s":"D","t":29.5,"v":95.4},{"s":"D","t":30.8,"v":91.9},{"s":"D","t":32.6,"v":74.1},{"s":"D","t":34.8,"v":61.7},{"s":"D","t":36.6,"v":74.1},{"s":"D","t":38.4,"v":89.2},{"s":"D","t":41.1,"v":91.5},{"s":"D","t":45.5,"v":91.5},{"s":"D","t":47.8,"v":94.9},{"s":"D","t":49.6,"v":91.9},{"s":"D","t":50.9,"v":77.7},{"s":"D","t":52.7,"v":47.5},{"s":"D","t":54.5,"v":20.9},{"s":"D","t":55.8,"v":16.9},{"s":"D","t":57.1,"v":31.6},{"s":"D","t":59.4,"v":44},{"s":"D","t":60.7,"v":52},{"s":"D","t":62.9,"v":70.6},{"s":"D","t":65.2,"v":63.5},{"s":"D","t":67.9,"v":49.3},{"s":"D","t":70.5,"v":37.8},{"s":"D","t":72.8,"v":44},{"s":"D","t":75.4,"v":75},{"s":"D","t":77.7,"v":68.8},{"s":"D","t":79.9,"v":52.8},{"s":"D","t":81.7,"v":44},{"s":"D","t":83.5,"v":37.8},{"s":"D","t":85.7,"v":31.6},{"s":"D","t":87.9,"v":28.9},{"s":"D","t":91.1,"v":46.6},{"s":"D","t":93.3,"v":48.4},{"s":"D","t":96,"v":59},{"s":"D","t":98.7,"v":71.4},{"s":"D","t":100.4,"v":86.5},{"s":"D","t":102.2,"v":78.6},{"s":"D","t":104.9,"v":51.1},{"s":"D","t":107.1,"v":67},{"s":"D","t":109.4,"v":92.7},{"s":"D","t":112.9,"v":88.3},{"s":"D","t":116.1,"v":91.9},{"s":"D","t":119.6,"v":97.2},{"s":"D","t":121.9,"v":90.1},{"s":"D","t":123.7,"v":76.8},{"s":"D","t":125.9,"v":77.7},{"s":"D","t":129,"v":76.8},{"s":"D","t":133,"v":90.1},{"s":"D","t":135.7,"v":83},{"s":"D","t":137.9,"v":79.4},{"s":"D","t":140,"v":81.6},{"s":"D","t":142.7,"v":84.8},{"s":"D","t":147.7,"v":90.6},{"s":"D","t":151.3,"v":74.5},{"s":"D","t":153.6,"v":78.6},{"s":"D","t":157.2,"v":93.6},{"s":"D","t":159.9,"v":91},{"s":"D","t":163.5,"v":78.6},{"s":"D","t":166.2,"v":71.5},{"s":"D","t":169,"v":58.2},{"s":"D","t":171.2,"v":50.2},{"s":"D","t":174.4,"v":60.8},{"s":"D","t":176.7,"v":51.1},{"s":"D","t":179.8,"v":81.2},{"s":"D","t":183.9,"v":57.3},{"s":"D","t":186.2,"v":63.5},{"s":"D","t":191.1,"v":89.7},{"s":"D","t":195.2,"v":62.6},{"s":"D","t":197.9,"v":73.2},{"s":"D","t":201.5,"v":35.1},{"s":"D","t":203.3,"v":38.7},{"s":"D","t":206.1,"v":52.8},{"s":"D","t":210.6,"v":79.4},{"s":"D","t":213.3,"v":65.3},{"s":"D","t":216.9,"v":49.3},{"s":"D","t":219.2,"v":27.1},{"s":"D","t":221,"v":26.2},{"s":"D","t":224.2,"v":32.4},{"s":"D","t":226.9,"v":23.6},{"s":"D","t":228.2,"v":27.1},{"s":"D","t":230,"v":49.3}
],
"sig":[
{"t1":38,"t2":51.6,"v1":106.9,"v2":108.8},{"t1":64,"t2":65.6,"v1":106.9,"v2":108.8},{"t1":120.8,"t2":150.6,"v1":106.9,"v2":108.8},{"t1":153.8,"t2":169.6,"v1":106.9,"v2":108.8},{"t1":174.8,"t2":193.8,"v1":106.9,"v2":108.8},{"t1":195.8,"t2":201.6,"v1":106.9,"v2":108.8},
{"t1":3.8,"t2":14.8,"v1":-9.6,"v2":-7.4},{"t1":86.8,"t2":95.8,"v1":-9.6,"v2":-7.4},{"t1":223.8,"t2":224.8,"v1":-9.6,"v2":-7.4},{"t1":226,"t2":230.8,"v1":-9.6,"v2":-7.4}
]
},
"vconcat":[
{
"width":1370,"height":726,
"resolve":{"scale":{"color":"independent","fill":"independent","stroke":"independent"},"axis":{"y":"independent","x":"independent"}},
"layer":[
{"data":{"name":"zones"},"mark":{"type":"rect","clip":true},
 "encoding":{
  "x":{"field":"t1","type":"quantitative","scale":{"domain":[0,274],"nice":false,"zero":false,"padding":0},"axis":null},
  "x2":{"field":"t2"},
  "y":{"field":"p1","type":"quantitative","scale":{"domain":[6621.2,7007.4],"nice":false,"zero":false,"padding":0},
   "axis":{"orient":"right","title":null,"values":[6625,6630,6635,6640,6645,6650,6655,6660,6665,6670,6675,6680,6685,6690,6695,6700,6705,6710,6715,6720,6725,6730,6735,6740,6745,6750,6755,6760,6765,6770,6775,6780,6785,6790,6795,6800,6805,6810,6815,6820,6825,6830,6835,6840,6845,6850,6855,6860,6865,6870,6875,6880,6885,6890,6895,6900,6905,6910,6915,6920,6925,6930,6935,6940,6945,6950,6955,6960,6965,6970,6975,6980,6985,6990,6995,7000],
    "format":"d","labelExpr":"datum.value % 50 === 0 ? datum.label : ''",
    "tickSize":{"condition":{"test":"datum.value % 25 === 0","value":6},"value":2},
    "grid":true,"gridColor":"#008080","gridDash":[1,11],"gridWidth":1,
    "gridOpacity":{"condition":{"test":"datum.value % 50 === 0","value":1},"value":0},
    "domainColor":"#000000","tickColor":"#000000","labelColor":"#000000",
    "labelFont":"Liberation Sans","labelFontWeight":"bold","labelFontSize":12.5,"labelPadding":1,"labelOverlap":false,"labelFlush":false}},
  "y2":{"field":"p2"},
  "color":{"field":"kind","type":"nominal","scale":{"domain":["pink","cyan","black"],"range":["#ff80ff","#00ffff","#000000"]},"legend":null}}},
{"data":{"name":"fibs"},"mark":{"type":"rule","clip":true,"strokeWidth":1},
 "encoding":{
  "x":{"field":"t1","type":"quantitative","scale":{"domain":[0,274],"nice":false,"zero":false,"padding":0},"axis":null},
  "x2":{"field":"t2"},
  "y":{"field":"p","type":"quantitative","scale":{"domain":[6621.2,7007.4],"nice":false,"zero":false,"padding":0},"axis":null},
  "color":{"field":"lvl","type":"nominal","scale":{"domain":["0.000","0.618","0.764","1.000"],"range":["#000000","#008000","#800000","#000000"]},"legend":null}}},
{"data":{"name":"ticks"},"mark":{"type":"rule","clip":true,"strokeWidth":3,"color":"#000000"},
 "encoding":{
  "x":{"field":"t","type":"quantitative","scale":{"domain":[0,274],"nice":false,"zero":false,"padding":0},"axis":null},
  "y":{"field":"p1","type":"quantitative","scale":{"domain":[6621.2,7007.4],"nice":false,"zero":false,"padding":0},"axis":null},
  "y2":{"field":"p2"}}},
{"data":{"name":"ind"},"transform":[{"filter":"datum.s === 'ma2'"}],"mark":{"type":"line","clip":true,"strokeWidth":5,"color":"#bdd9bd"},
 "encoding":{
  "x":{"field":"t","type":"quantitative","scale":{"domain":[0,274],"nice":false,"zero":false,"padding":0},"axis":null},
  "y":{"field":"p","type":"quantitative","scale":{"domain":[6621.2,7007.4],"nice":false,"zero":false,"padding":0},"axis":null}}},
{"data":{"name":"ind"},"transform":[{"filter":"datum.s === 'ma'"}],"mark":{"type":"line","clip":true,"strokeWidth":1,"color":"#ff00ff"},
 "encoding":{
  "x":{"field":"t","type":"quantitative","scale":{"domain":[0,274],"nice":false,"zero":false,"padding":0},"axis":null},
  "y":{"field":"p","type":"quantitative","scale":{"domain":[6621.2,7007.4],"nice":false,"zero":false,"padding":0},"axis":null}}},
{"data":{"name":"candles"},"mark":{"type":"rule","clip":true,"strokeWidth":1},
 "encoding":{
  "x":{"field":"t","type":"quantitative","scale":{"domain":[0,274],"nice":false,"zero":false,"padding":0},"axis":null},
  "y":{"field":"l","type":"quantitative","scale":{"domain":[6621.2,7007.4],"nice":false,"zero":false,"padding":0},"axis":null},
  "y2":{"field":"h"},
  "color":{"field":"k","type":"nominal","scale":{"domain":["blue","red","black"],"range":["#0000ff","#ff0000","#000000"]},"legend":null}}},
{"data":{"name":"candles"},"mark":{"type":"bar","clip":true,"size":4,"strokeWidth":1},
 "encoding":{
  "x":{"field":"t","type":"quantitative","scale":{"domain":[0,274],"nice":false,"zero":false,"padding":0},"axis":null},
  "y":{"field":"o","type":"quantitative","scale":{"domain":[6621.2,7007.4],"nice":false,"zero":false,"padding":0},"axis":null},
  "y2":{"field":"c"},
  "stroke":{"field":"k","type":"nominal","scale":{"domain":["blue","red","black"],"range":["#0000ff","#ff0000","#000000"]},"legend":null},
  "fill":{"condition":{"test":"datum.c > datum.o","value":"#ffffff"},"field":"k","type":"nominal","scale":{"domain":["blue","red","black"],"range":["#0000ff","#ff0000","#000000"]},"legend":null}}},
{"data":{"name":"trend"},"mark":{"type":"line","clip":true,"strokeWidth":2},
 "encoding":{
  "x":{"field":"t","type":"quantitative","scale":{"domain":[0,274],"nice":false,"zero":false,"padding":0},"axis":null},
  "y":{"field":"p","type":"quantitative","scale":{"domain":[6621.2,7007.4],"nice":false,"zero":false,"padding":0},"axis":null},
  "color":{"field":"s","type":"nominal","scale":{"domain":["blue","gray","red"],"range":["#0a1ee6","#c0c0c0","#ff0000"]},"legend":null}}},
{"data":{"name":"ind"},"transform":[{"filter":"datum.s === 'up'"}],"mark":{"type":"line","clip":true,"strokeWidth":2,"color":"#0000ff"},
 "encoding":{
  "x":{"field":"t","type":"quantitative","scale":{"domain":[0,274],"nice":false,"zero":false,"padding":0},"axis":null},
  "y":{"field":"p","type":"quantitative","scale":{"domain":[6621.2,7007.4],"nice":false,"zero":false,"padding":0},"axis":null}}},
{"data":{"name":"ind"},"transform":[{"filter":"datum.s === 'lo'"}],"mark":{"type":"line","clip":true,"strokeWidth":2,"color":"#ff0000"},
 "encoding":{
  "x":{"field":"t","type":"quantitative","scale":{"domain":[0,274],"nice":false,"zero":false,"padding":0},"axis":null},
  "y":{"field":"p","type":"quantitative","scale":{"domain":[6621.2,7007.4],"nice":false,"zero":false,"padding":0},"axis":null}}},
{"data":{"values":[{"p":6968.6}]},"mark":{"type":"rule","clip":true,"strokeWidth":1,"color":"#808000"},
 "encoding":{"y":{"field":"p","type":"quantitative","scale":{"domain":[6621.2,7007.4],"nice":false,"zero":false,"padding":0},"axis":null}}},
{"data":{"values":[{"t":269}]},"mark":{"type":"rule","clip":true,"strokeWidth":1,"color":"#808000"},
 "encoding":{"x":{"field":"t","type":"quantitative","scale":{"domain":[0,274],"nice":false,"zero":false,"padding":0},"axis":null}}},
{"data":{"name":"fibs"},"mark":{"type":"text","clip":true,"align":"left","baseline":"bottom","dx":2,"dy":1,"fontSize":12.5,"fontWeight":"bold","font":"Liberation Sans"},
 "encoding":{
  "x":{"field":"t2","type":"quantitative","scale":{"domain":[0,274],"nice":false,"zero":false,"padding":0},"axis":null},
  "y":{"field":"p","type":"quantitative","scale":{"domain":[6621.2,7007.4],"nice":false,"zero":false,"padding":0},"axis":null},
  "text":{"field":"label"},
  "color":{"field":"lvl","type":"nominal","scale":{"domain":["0.000","0.618","0.764","1.000"],"range":["#000000","#008000","#800000","#000000"]},"legend":null}}},
{"data":{"name":"labels"},"mark":{"type":"text","clip":true,"align":"center","baseline":"middle","fontSize":13,"font":"Liberation Sans"},
 "encoding":{
  "x":{"field":"t","type":"quantitative","scale":{"domain":[0,274],"nice":false,"zero":false,"padding":0},"axis":null},
  "y":{"field":"p","type":"quantitative","scale":{"domain":[6621.2,7007.4],"nice":false,"zero":false,"padding":0},"axis":null},
  "text":{"field":"text"},
  "color":{"field":"col","type":"nominal","scale":{"domain":["blue","red","black"],"range":["#1e3cf0","#ff0000","#000000"]},"legend":null}}},
{"data":{"name":"circles"},"mark":{"type":"point","clip":true,"shape":"circle","filled":true,"size":200,"fill":"#0c1ed2","stroke":"#000000","strokeWidth":1,"opacity":1},
 "encoding":{
  "x":{"field":"t","type":"quantitative","scale":{"domain":[0,274],"nice":false,"zero":false,"padding":0},"axis":null},
  "y":{"field":"p","type":"quantitative","scale":{"domain":[6621.2,7007.4],"nice":false,"zero":false,"padding":0},"axis":null}}},
{"data":{"name":"circles"},"mark":{"type":"text","clip":true,"align":"center","baseline":"middle","dy":1,"fontSize":12,"fontWeight":"bold","color":"#ffffff","font":"Liberation Sans"},
 "encoding":{
  "x":{"field":"t","type":"quantitative","scale":{"domain":[0,274],"nice":false,"zero":false,"padding":0},"axis":null},
  "y":{"field":"p","type":"quantitative","scale":{"domain":[6621.2,7007.4],"nice":false,"zero":false,"padding":0},"axis":null},
  "text":{"field":"n"}}},
{"data":{"values":[{"t":233.2,"p":6847.3,"n":"19"}]},"mark":{"type":"point","clip":true,"shape":"square","filled":true,"size":196,"fill":"#ff0000","opacity":1},
 "encoding":{
  "x":{"field":"t","type":"quantitative","scale":{"domain":[0,274],"nice":false,"zero":false,"padding":0},"axis":null},
  "y":{"field":"p","type":"quantitative","scale":{"domain":[6621.2,7007.4],"nice":false,"zero":false,"padding":0},"axis":null}}},
{"data":{"values":[{"t":233.2,"p":6847.3,"n":"19"}]},"mark":{"type":"text","clip":true,"align":"center","baseline":"middle","dy":1,"fontSize":12,"fontWeight":"bold","color":"#ffffff","font":"Liberation Sans"},
 "encoding":{
  "x":{"field":"t","type":"quantitative","scale":{"domain":[0,274],"nice":false,"zero":false,"padding":0},"axis":null},
  "y":{"field":"p","type":"quantitative","scale":{"domain":[6621.2,7007.4],"nice":false,"zero":false,"padding":0},"axis":null},
  "text":{"field":"n"}}},
{"data":{"values":[{"t1":274.6,"t2":281.7,"p1":6963.8,"p2":6973.4}]},"mark":{"type":"rect","clip":false,"fill":"#ffffe0","stroke":"#000000","strokeWidth":1},
 "encoding":{
  "x":{"field":"t1","type":"quantitative","scale":{"domain":[0,274],"nice":false,"zero":false,"padding":0},"axis":null},
  "x2":{"field":"t2"},
  "y":{"field":"p1","type":"quantitative","scale":{"domain":[6621.2,7007.4],"nice":false,"zero":false,"padding":0},"axis":null},
  "y2":{"field":"p2"}}},
{"data":{"values":[{"t":275.2,"p":6968.6,"txt":"6968."}]},"mark":{"type":"text","clip":false,"align":"left","baseline":"middle","fontSize":12.5,"fontWeight":"bold","color":"#000000","font":"Liberation Sans"},
 "encoding":{
  "x":{"field":"t","type":"quantitative","scale":{"domain":[0,274],"nice":false,"zero":false,"padding":0},"axis":null},
  "y":{"field":"p","type":"quantitative","scale":{"domain":[6621.2,7007.4],"nice":false,"zero":false,"padding":0},"axis":null},
  "text":{"field":"txt"}}},
{"data":{"values":[{"p":6621.9}]},"mark":{"type":"rule","clip":false,"strokeWidth":2,"color":"#a0a0a0"},
 "encoding":{"y":{"field":"p","type":"quantitative","scale":{"domain":[6621.2,7007.4],"nice":false,"zero":false,"padding":0},"axis":null}}}
]
},
{
"width":1370,"height":224,
"resolve":{"scale":{"color":"independent","fill":"independent","stroke":"independent"},"axis":{"y":"independent","x":"independent"}},
"layer":[
{"data":{"values":[{"v":20},{"v":80},{"v":100}]},"mark":{"type":"rule","clip":true,"strokeWidth":1,"color":"#808000"},
 "encoding":{
  "y":{"field":"v","type":"quantitative","scale":{"domain":[-10.1,109.0],"nice":false,"zero":false,"padding":0},
   "axis":{"orient":"right","title":null,"values":[-5,0,5,10,15,20,25,30,35,40,45,50,55,60,65,70,75,80,85,90,95,100,105],
    "labelExpr":"datum.value === 100 ? '100.0' : (datum.value === 50 ? '50.00' : '')",
    "tickSize":{"condition":{"test":"datum.value % 25 === 0","value":6},"value":2},
    "grid":true,"gridColor":"#008080","gridDash":[1,11],"gridWidth":1,
    "gridOpacity":{"condition":{"test":"datum.value % 50 === 0 && datum.value >= 0","value":1},"value":0},
    "domainColor":"#000000","tickColor":"#000000","labelColor":"#000000",
    "labelFont":"Liberation Sans","labelFontWeight":"bold","labelFontSize":12.5,"labelPadding":1,"labelOverlap":false,"labelFlush":false}}}},
{"data":{"name":"sig"},"mark":{"type":"rect","clip":true,"color":"#0000ff"},
 "encoding":{
  "x":{"field":"t1","type":"quantitative","scale":{"domain":[0,274],"nice":false,"zero":false,"padding":0},"axis":null},
  "x2":{"field":"t2"},
  "y":{"field":"v1","type":"quantitative","scale":{"domain":[-10.1,109.0],"nice":false,"zero":false,"padding":0},"axis":null},
  "y2":{"field":"v2"}}},
{"data":{"name":"stoch"},"mark":{"type":"line","clip":true,"strokeWidth":1},
 "encoding":{
  "x":{"field":"t","type":"quantitative","scale":{"domain":[0,274],"nice":false,"zero":false,"padding":0},"axis":null},
  "y":{"field":"v","type":"quantitative","scale":{"domain":[-10.1,109.0],"nice":false,"zero":false,"padding":0},"axis":null},
  "color":{"field":"s","type":"nominal","scale":{"domain":["K","D"],"range":["#0000ff","#ff0000"]},"legend":null}}},
{"data":{"values":[{"t":269}]},"mark":{"type":"rule","clip":true,"strokeWidth":1,"color":"#808000"},
 "encoding":{"x":{"field":"t","type":"quantitative","scale":{"domain":[0,274],"nice":false,"zero":false,"padding":0},"axis":null}}},
{"data":{"values":[{"t1":274.6,"t2":281.7,"v1":-4.3,"v2":4.3}]},"mark":{"type":"rect","clip":false,"fill":"#ffffe0","stroke":"#000000","strokeWidth":1},
 "encoding":{
  "x":{"field":"t1","type":"quantitative","scale":{"domain":[0,274],"nice":false,"zero":false,"padding":0},"axis":null},
  "x2":{"field":"t2"},
  "y":{"field":"v1","type":"quantitative","scale":{"domain":[-10.1,109.0],"nice":false,"zero":false,"padding":0},"axis":null},
  "y2":{"field":"v2"}}},
{"data":{"values":[{"t":281.4,"v":0,"txt":"0.0"}]},"mark":{"type":"text","clip":false,"align":"right","baseline":"middle","fontSize":12.5,"fontWeight":"bold","color":"#000000","font":"Liberation Sans"},
 "encoding":{
  "x":{"field":"t","type":"quantitative","scale":{"domain":[0,274],"nice":false,"zero":false,"padding":0},"axis":null},
  "y":{"field":"v","type":"quantitative","scale":{"domain":[-10.1,109.0],"nice":false,"zero":false,"padding":0},"axis":null},
  "text":{"field":"txt"}}},
{"data":{"values":[{"v":-9.9}]},"mark":{"type":"rule","clip":true,"strokeWidth":1,"color":"#000000"},
 "encoding":{"y":{"field":"v","type":"quantitative","scale":{"domain":[-10.1,109.0],"nice":false,"zero":false,"padding":0},"axis":null}}}
]
}
]
}
